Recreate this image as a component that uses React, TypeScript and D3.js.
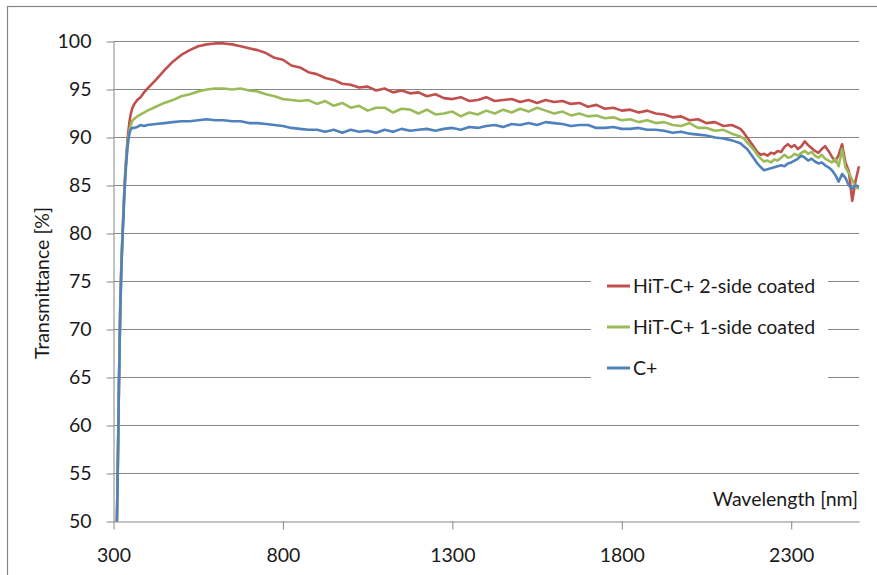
import React, { useRef, useEffect } from "react";
import { select, scaleLinear, line, axisLeft, axisBottom, format } from "d3";

// wavelength grid [nm]
const wavelengths = [
  310, 312, 314, 316, 318, 320, 323, 326, 329, 332, 335, 338, 341, 344, 347, 350, 355, 360, 370, 380, 390,
  400, 425, 450, 475, 500, 525, 550, 575, 600, 625, 650, 675, 700, 725, 750, 775, 800, 825, 850, 875,
  900, 925, 950, 975, 1000, 1025, 1050, 1075, 1100, 1125, 1150, 1175, 1200, 1225, 1250, 1275, 1300, 1325,
  1350, 1375, 1400, 1425, 1450, 1475, 1500, 1525, 1550, 1575, 1600, 1625, 1650, 1675, 1700, 1725, 1750,
  1775, 1800, 1825, 1850, 1875, 1900, 1925, 1950, 1975, 2000, 2025, 2050, 2075, 2100, 2125, 2150,
  2160, 2170, 2180, 2190, 2200, 2210, 2220, 2230, 2240, 2250, 2260, 2270, 2280, 2290, 2300, 2310, 2320,
  2330, 2340, 2350, 2360, 2370, 2380, 2390, 2400, 2410, 2420, 2430, 2440, 2450, 2460, 2470, 2480, 2490, 2500
];

// HiT-C+ 2-side coated
const coated2 = [
  50, 54, 59, 64, 68.5, 72.5, 76.5, 79.5, 82, 84.5, 86.5, 88.2, 89.6, 90.7, 91.6, 92.3, 93.0, 93.4, 93.9, 94.2, 94.7,
  95.1, 96.0, 97.0, 97.9, 98.6, 99.1, 99.5, 99.7, 99.8, 99.8, 99.7, 99.5, 99.3, 99.1, 98.8, 98.3, 98.1, 97.5, 97.3, 96.8,
  96.6, 96.2, 96.0, 95.6, 95.5, 95.2, 95.3, 94.9, 95.1, 94.7, 94.9, 94.6, 94.7, 94.3, 94.5, 94.1, 94.0, 94.2,
  93.8, 93.9, 94.2, 93.8, 93.9, 94.0, 93.7, 93.9, 93.6, 93.9, 93.7, 93.8, 93.5, 93.6, 93.2, 93.4, 93.0,
  93.1, 92.8, 92.9, 92.6, 92.8, 92.5, 92.4, 92.1, 92.2, 91.8, 91.9, 91.5, 91.6, 91.2, 91.3, 90.9,
  90.5, 90.0, 89.5, 89.0, 88.5, 88.2, 88.3, 88.1, 88.4, 88.3, 88.6, 88.5, 89.0, 89.3, 89.0, 89.2, 88.8,
  89.1, 89.6, 89.2, 88.9, 88.6, 88.4, 88.8, 89.1, 88.6, 88.0, 87.5, 88.2, 89.3, 87.4, 86.5, 83.4, 85.5, 87.0
];

// HiT-C+ 1-side coated
const coated1 = [
  50, 54, 59, 64, 68.5, 72.3, 76.3, 79.3, 81.8, 84.3, 86.3, 87.9, 89.1, 90.0, 90.7, 91.2, 91.7, 91.9, 92.2, 92.4, 92.6,
  92.8, 93.2, 93.6, 93.9, 94.3, 94.5, 94.8, 95.0, 95.1, 95.1, 95.0, 95.1, 94.9, 94.8, 94.5, 94.3, 94.0, 93.9, 93.8, 93.9,
  93.5, 93.8, 93.3, 93.6, 93.1, 93.3, 92.8, 93.1, 93.1, 92.6, 93.0, 92.9, 92.5, 92.9, 92.4, 92.5, 92.7, 92.2,
  92.6, 92.4, 92.8, 92.5, 92.9, 92.6, 93.0, 92.7, 93.1, 92.8, 92.5, 92.7, 92.3, 92.5, 92.2, 92.3, 92.0,
  92.1, 91.8, 91.9, 91.6, 91.8, 91.5, 91.6, 91.3, 91.2, 91.5, 91.0, 91.0, 90.7, 90.8, 90.4, 90.1,
  89.9, 89.5, 89.1, 88.7, 88.2, 87.8, 87.5, 87.6, 87.4, 87.7, 87.6, 87.9, 88.2, 87.9, 88.0, 88.3, 88.1,
  88.4, 88.6, 88.3, 88.5, 88.1, 87.9, 88.2, 87.8, 87.6, 87.4, 87.8, 87.0, 88.8, 86.9, 86.3, 85.6, 84.8, 84.7
];

// C+
const uncoated = [
  50, 54, 59, 64, 68, 72, 76, 79, 81.5, 84, 86, 87.5, 88.8, 89.8, 90.4, 90.8, 91.0, 91.0, 91.1, 91.3, 91.2,
  91.3, 91.4, 91.5, 91.6, 91.7, 91.7, 91.8, 91.9, 91.8, 91.8, 91.7, 91.7, 91.5, 91.5, 91.4, 91.3, 91.2, 91.0, 90.9, 90.8,
  90.8, 90.6, 90.8, 90.5, 90.8, 90.6, 90.7, 90.5, 90.8, 90.6, 90.9, 90.7, 90.8, 90.9, 90.7, 90.9, 91.0, 90.8,
  91.1, 91.0, 91.2, 91.3, 91.1, 91.4, 91.3, 91.5, 91.3, 91.6, 91.5, 91.4, 91.2, 91.3, 91.3, 91.0, 91.0,
  91.1, 90.9, 90.9, 91.0, 90.8, 90.8, 90.7, 90.5, 90.6, 90.4, 90.3, 90.2, 90.0, 89.9, 89.7, 89.4,
  89.1, 88.8, 88.3, 87.8, 87.3, 86.9, 86.6, 86.7, 86.8, 86.9, 87.0, 87.1, 87.0, 87.3, 87.4, 87.6, 87.8,
  88.1, 87.9, 87.6, 87.8, 87.5, 87.3, 87.4, 87.1, 86.9, 86.6, 86.1, 85.4, 86.2, 85.8, 85.0, 84.7, 85.0, 84.9
];

const seriesNames = ["HiT-C+ 2-side coated", "HiT-C+ 1-side coated", "C+"];
const seriesColors = ["#C0504D", "#9BBB59", "#4F81BD"];
const seriesValues = [coated2, coated1, uncoated];

const xTicks = [300, 800, 1300, 1800, 2300];
const yTicks = [50, 55, 60, 65, 70, 75, 80, 85, 90, 95, 100];

const FONT = "Lato, 'Open Sans', sans-serif";
const FS = 19.5;
const GRID = "#868686";
const TEXT = "#1a1a1a";

const App = () => {
  const xAxisRef = useRef<SVGGElement>(null);
  const yAxisRef = useRef<SVGGElement>(null);

  const width = 877;
  const height = 575;

  const xScale = scaleLinear().domain([300, 2500]).range([113.5, 859]);
  const yScale = scaleLinear().domain([50, 100]).range([521.5, 41.5]);

  const lineGen = line<number>()
    .x((d, i) => xScale(wavelengths[i]))
    .y(d => yScale(d));

  useEffect(() => {
    const xAxis = axisBottom(xScale).tickValues(xTicks).tickFormat(format("d")).tickSize(8).tickSizeOuter(0).tickPadding(19);
    const gx = select(xAxisRef.current).call(xAxis as any);
    gx.attr("font-family", FONT).attr("font-size", FS);
    gx.select(".domain").attr("stroke", GRID);
    gx.selectAll(".tick line").attr("stroke", GRID);
    gx.selectAll(".tick text").attr("fill", TEXT);

    const yAxis = axisLeft(yScale).tickValues(yTicks).tickFormat(format("d")).tickSize(7).tickSizeOuter(0).tickPadding(15);
    const gy = select(yAxisRef.current).call(yAxis as any);
    gy.attr("font-family", FONT).attr("font-size", FS);
    gy.select(".domain").attr("stroke", GRID);
    gy.selectAll(".tick line").attr("stroke", GRID);
    gy.selectAll(".tick text").attr("fill", TEXT);
  }, []);

  return (
    <div style={{ position: "absolute", left: 0, top: 0 }}>
      <svg width={width} height={height} style={{ display: "block", background: "#fff" }}>
        <rect x={7.5} y={6.5} width={1000} height={1000} fill="none" stroke={GRID} strokeWidth={1.2} />

        {/* horizontal gridlines */}
        <g>
          {yTicks.slice(1).map(t => (
            <line key={t} x1={113.5} x2={859} y1={yScale(t)} y2={yScale(t)} stroke={GRID} strokeWidth={1} />
          ))}
        </g>

        <g ref={xAxisRef} transform={`translate(0,${yScale(50)})`} />
        <g ref={yAxisRef} transform={`translate(${xScale(300)},0)`} />

        {/* legend box */}
        <rect x={591} y={262} width={237} height={130} fill="#fff" />
        {seriesNames.map((name, i) => (
          <g key={name} transform={`translate(607,${286 + i * 41})`}>
            <line x1={0} x2={23} y1={0} y2={0} stroke={seriesColors[i]} strokeWidth={3} />
            <text x={26} y={0} dy="0.36em" fontFamily={FONT} fontSize={FS} fill={TEXT}>{name}</text>
          </g>
        ))}

        {/* series */}
        {seriesValues.map((vals, i) => (
          <path key={i} d={lineGen(vals) || ""} fill="none" stroke={seriesColors[i]} strokeWidth={2.6} strokeLinejoin="round" />
        ))}

        <text x={858} y={506} textAnchor="end" fontFamily={FONT} fontSize={FS} fill={TEXT}>Wavelength [nm]</text>
        <text transform="translate(49,283) rotate(-90)" textAnchor="middle" fontFamily={FONT} fontSize={FS} fill={TEXT}>Transmittance [%]</text>
      </svg>
    </div>
  );
};

export default App;
